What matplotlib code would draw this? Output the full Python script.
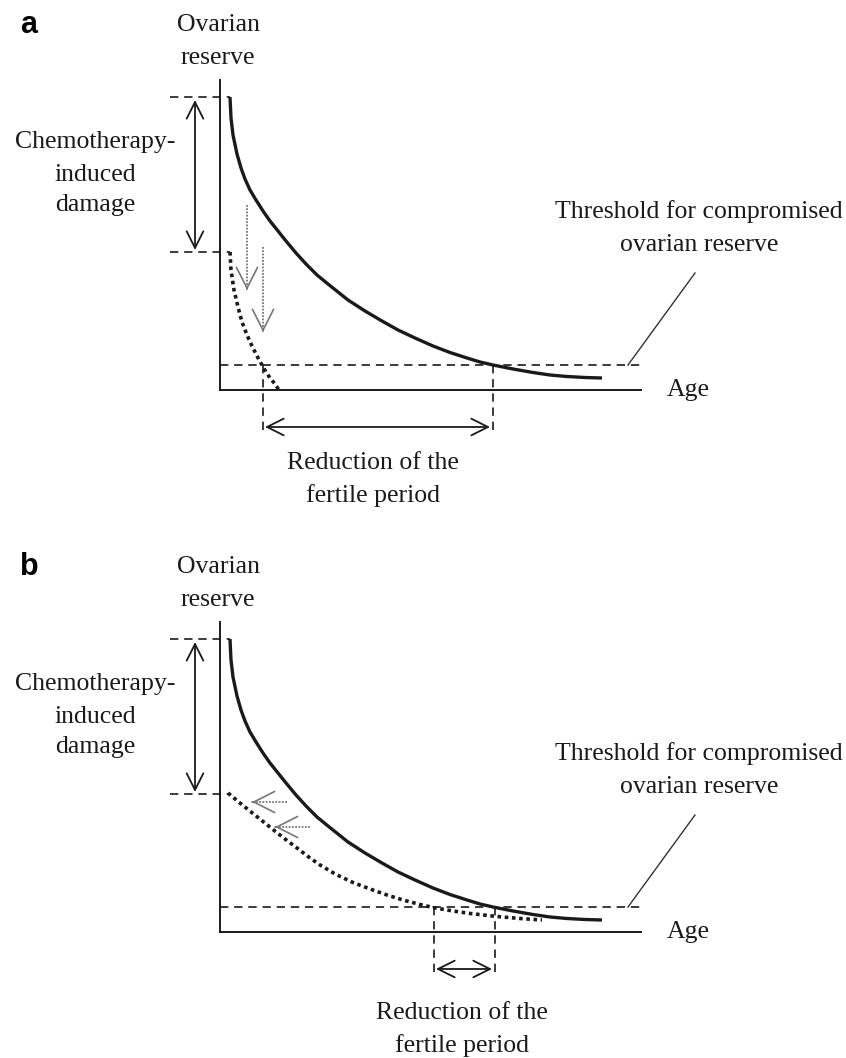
import matplotlib.pyplot as plt

plt.rcParams['font.family'] = ['Liberation Serif', 'DejaVu Serif']

# Schematic values (x = age units from the origin, y = ovarian reserve units)
age_normal = [10, 11, 13, 17, 21, 25, 30, 36, 43, 50, 58, 66, 76, 86, 97, 108, 118, 128,
              145, 162, 178, 195, 213, 230, 247, 260, 273, 293, 313, 330, 347, 365, 382]
reserve_normal = [293, 272, 255, 236, 222, 211, 200, 190, 179, 169, 159, 149, 137, 126, 115, 106, 98, 90,
                  79, 69, 60, 52, 44, 37.5, 32, 28, 25, 21, 17.5, 15, 13.5, 12.5, 12]

# a: reserve drops and the decline keeps the same speed
age_chemo_a = [10, 11, 14, 18, 22, 27, 32, 37, 42, 46, 50, 55, 59]
reserve_chemo_a = [138, 120, 100, 83, 68, 55, 44, 34, 25, 18, 12, 6, 0]

# b: reserve drops but the decline slows down
age_chemo_b = [8, 20, 33, 43, 53, 65, 77, 88, 100, 116, 133, 150, 167, 183, 200, 213, 230, 250, 277, 300, 322]
reserve_chemo_b = [139, 129, 118.5, 110.5, 102.5, 93, 84, 75.5, 67, 57.5, 49.5, 43, 37, 32, 27.5, 24.5,
                   21.5, 18.5, 15.5, 13.5, 12]

top_level = 293
damage_level = 138
threshold = 25
threshold_end = 423
axis_top = 310
axis_right = 421

# where each curve crosses the threshold
cross_a = (43, 273)
cross_b = (214, 275)

INK = '#1a1a1a'
GREY = '#777777'
FS = 18.5

fig = plt.figure(figsize=(8.46, 10.58), dpi=100)
ax_a = fig.add_axes([0, 0.5, 1, 0.5])
ax_b = fig.add_axes([0, 0, 1, 0.5])


def dashed(ax, xs, ys):
    ax.plot(xs, ys, color=INK, lw=1.2, ls=(0, (5, 3.5)))


def double_arrow(ax, p0, p1):
    ax.annotate('', xy=p1, xytext=p0,
                arrowprops=dict(arrowstyle='<->,head_length=0.6,head_width=0.3',
                                lw=1.3, color=INK, shrinkA=0, shrinkB=0, mutation_scale=20))


def grey_arrow(ax, tail, tip):
    ax.plot([tail[0], tip[0]], [tail[1], tip[1]], color=GREY, lw=1.3, ls=(0, (1, 0.8)))
    dx = (tip[0] - tail[0]) * 0.02
    dy = (tip[1] - tail[1]) * 0.02
    ax.annotate('', xy=tip, xytext=(tip[0] - dx, tip[1] - dy),
                arrowprops=dict(arrowstyle='->,head_length=0.75,head_width=0.38',
                                lw=1.2, color=GREY, shrinkA=0, shrinkB=0, mutation_scale=20))


def panel(ax, letter, age_chemo, reserve_chemo, cross, label_x, label_y):
    # axes lines
    ax.plot([0, 0], [0, axis_top], color=INK, lw=1.4)
    ax.plot([0, axis_right], [0, 0], color=INK, lw=1.4)

    # guide lines
    dashed(ax, [-50, 10], [top_level, top_level])
    dashed(ax, [-50, 10], [damage_level, damage_level])
    dashed(ax, [0, threshold_end], [threshold, threshold])
    for c in cross:
        dashed(ax, [c, c], [threshold, -43])
    ax.plot([408, 475], [threshold, 117], color='#333333', lw=1.0)

    # curves
    ax.plot(age_normal, reserve_normal, color=INK, lw=2.4, solid_capstyle='butt',
            solid_joinstyle='round')
    ax.plot(age_chemo, reserve_chemo, color=INK, lw=2.6, ls=(0, (1, 1)))

    double_arrow(ax, (-25, damage_level + 2), (-25, top_level - 3))
    double_arrow(ax, (cross[0] + 2, -37), (cross[1] - 3, -37))

    # texts
    ax.text(-200, 357, letter, fontsize=22, fontweight='bold', family='Liberation Sans',
            ha='left', va='baseline', color='black')
    ax.text(-2, 365, 'Ovarian', fontsize=FS, ha='center', va='center', color=INK)
    ax.text(-2, 332, 'reserve', fontsize=FS, ha='center', va='center', color=INK)
    for txt, y in [('Chemotherapy-', 248), ('induced', 215), ('damage', 185)]:
        ax.text(-125, y, txt, fontsize=FS, ha='center', va='center', color=INK)
    ax.text(479, 178, 'Threshold for compromised', fontsize=FS, ha='center', va='center', color=INK)
    ax.text(479, 145, 'ovarian reserve', fontsize=FS, ha='center', va='center', color=INK)
    ax.text(447, 0, 'Age', fontsize=FS, ha='left', va='center', color=INK)
    ax.text(label_x, label_y, 'Reduction of the', fontsize=FS, ha='center', va='center', color=INK)
    ax.text(label_x, label_y - 33, 'fertile period', fontsize=FS, ha='center', va='center', color=INK)

    ax.set_xlim(-220, 626)
    ax.axis('off')


panel(ax_a, 'a', age_chemo_a, reserve_chemo_a, cross_a, 153, -73)
grey_arrow(ax_a, (27, 185), (27, 100))
grey_arrow(ax_a, (43, 143), (43, 58))
ax_a.set_ylim(-139, 390)

panel(ax_b, 'b', age_chemo_b, reserve_chemo_b, cross_b, 242, -81)
grey_arrow(ax_b, (67, 130), (32, 130))
grey_arrow(ax_b, (90, 105), (55, 105))
ax_b.set_ylim(-126, 403)

fig.savefig('out.png', dpi=100, facecolor='white')
